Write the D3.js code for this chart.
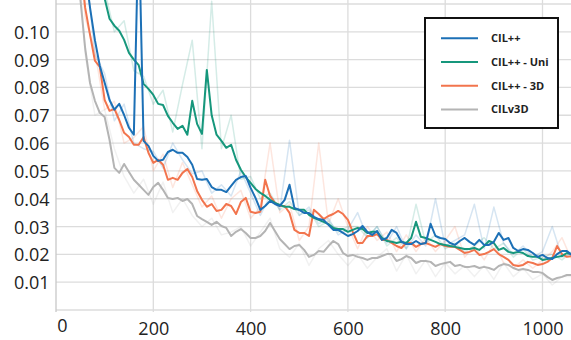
<!DOCTYPE html>
<html>
<head>
<meta charset="utf-8">
<script src="https://cdn.jsdelivr.net/npm/d3@7"></script>
<style>
  body { margin: 0; background: #fff; }
  svg { display: block; font-family: "Open Sans", "Noto Sans", sans-serif; }
</style>
</head>
<body>
<div id="chart"></div>
<script>
// training steps (logged every 10 steps for the smoothed curves, every 20 for the raw ones)
const steps = d3.range(50, 1070, 10);
const rawSteps = d3.range(40, 1080, 20);

const seriesNames = ["CIL++", "CIL++ - Uni", "CIL++ - 3D", "CILv3D"];
const seriesColors = ["#1c70b6", "#16977c", "#f2744d", "#b4b4b4"];

const xTicks = [0, 200, 400, 600, 800, 1000];
const yTicks = [0.01, 0.02, 0.03, 0.04, 0.05, 0.06, 0.07, 0.08, 0.09, 0.10];

// smoothed curves
const cilpp = [
  0.14, 0.122, 0.1086, 0.097, 0.0878, 0.0817, 0.0755, 0.072, 0.0741, 0.0701,
  0.0655, 0.063, 0.14, 0.0608, 0.059, 0.0554, 0.0536, 0.054, 0.0568, 0.0576,
  0.0565, 0.0565, 0.055, 0.0522, 0.0471, 0.0468, 0.0471, 0.0442, 0.0432, 0.0432,
  0.0424, 0.0446, 0.0468, 0.0478, 0.0482, 0.0439, 0.0403, 0.036, 0.0374, 0.0392,
  0.0381, 0.0374, 0.0396, 0.045, 0.0367, 0.036, 0.0349, 0.0349, 0.0335, 0.0327,
  0.0324, 0.0306, 0.0288, 0.0288, 0.0277, 0.0266, 0.0273, 0.0284, 0.0302, 0.0281,
  0.027, 0.0284, 0.0252, 0.0259, 0.0288, 0.0277, 0.0245, 0.0237, 0.0237, 0.0248,
  0.0237, 0.0241, 0.031, 0.0266, 0.0259, 0.0255, 0.0241, 0.0234, 0.0248, 0.0259,
  0.0245, 0.0234, 0.0252, 0.0234, 0.0234, 0.0245, 0.0277, 0.0252, 0.0259, 0.0223,
  0.0212, 0.0219, 0.0216, 0.0205, 0.0191, 0.0198, 0.0187, 0.0183, 0.0201, 0.0212,
  0.0212, 0.0198
];
const cilppUni = [
  0.16, 0.15, 0.142, 0.134, 0.124, 0.112, 0.1047, 0.1022, 0.1004, 0.0971,
  0.0924, 0.09, 0.088, 0.0813, 0.0795, 0.0773, 0.0741, 0.0737, 0.0698, 0.0673,
  0.0651, 0.0662, 0.063, 0.0752, 0.0669, 0.0633, 0.0863, 0.07, 0.063, 0.0608,
  0.0583, 0.0594, 0.054, 0.0504, 0.0478, 0.0457, 0.0435, 0.0421, 0.041, 0.0396,
  0.0385, 0.0378, 0.0371, 0.0371, 0.0363, 0.036, 0.036, 0.0342, 0.0331, 0.0324,
  0.0317, 0.0309, 0.0295, 0.0291, 0.0291, 0.0281, 0.0288, 0.0295, 0.0291, 0.0277,
  0.0281, 0.0281, 0.0259, 0.0248, 0.0245, 0.0241, 0.0245, 0.0241, 0.0259, 0.0317,
  0.0263, 0.0259, 0.0252, 0.0245, 0.0237, 0.0234, 0.023, 0.0227, 0.0223, 0.0219,
  0.0219, 0.0223, 0.0216, 0.023, 0.0248, 0.0241, 0.0216, 0.0223, 0.0209, 0.0205,
  0.0209, 0.0205, 0.0194, 0.0191, 0.0191, 0.018, 0.0183, 0.0187, 0.0191, 0.0194,
  0.0205, 0.0201
];
const cilpp3d = [
  0.125, 0.1086, 0.0989, 0.0896, 0.0874, 0.0755, 0.0716, 0.0723, 0.0683, 0.0637,
  0.0622, 0.0594, 0.0594, 0.0622, 0.0565, 0.0529, 0.054, 0.0522, 0.0468, 0.0475,
  0.0468, 0.0493, 0.0507, 0.0478, 0.0428, 0.0396, 0.0371, 0.0381, 0.0356, 0.036,
  0.0381, 0.0374, 0.0345, 0.0388, 0.0403, 0.0353, 0.0349, 0.0353, 0.0468, 0.041,
  0.0385, 0.0374, 0.0374, 0.0349, 0.0288, 0.0277, 0.0277, 0.0266, 0.036, 0.0345,
  0.0327, 0.0338, 0.0345, 0.0356, 0.0345, 0.0324, 0.0281, 0.0241, 0.0241, 0.0266,
  0.0266, 0.0273, 0.0252, 0.0252, 0.0241, 0.023, 0.0223, 0.0241, 0.0241, 0.0227,
  0.0237, 0.0241, 0.0234, 0.0227, 0.0237, 0.023, 0.0227, 0.0227, 0.0216, 0.0205,
  0.0209, 0.0216, 0.0198, 0.0201, 0.0209, 0.0219, 0.0201, 0.0191, 0.018, 0.0162,
  0.0158, 0.0162, 0.0173, 0.0169, 0.0162, 0.0165, 0.0173, 0.0187, 0.023, 0.0201,
  0.0191, 0.0194
];
const cilv3d = [
  0.112, 0.094, 0.0816, 0.0752, 0.0709, 0.0694, 0.0612, 0.0511, 0.0493, 0.0525,
  0.0496, 0.0468, 0.045, 0.0432, 0.0414, 0.0442, 0.0457, 0.0432, 0.0403, 0.0399,
  0.0403, 0.0392, 0.0399, 0.0381, 0.0338, 0.0327, 0.0317, 0.0306, 0.0317, 0.0302,
  0.0295, 0.0266, 0.0281, 0.0291, 0.0277, 0.0259, 0.0259, 0.0266, 0.0284, 0.0313,
  0.0284, 0.0255, 0.0237, 0.0219, 0.023, 0.0234, 0.0216, 0.0191, 0.0198, 0.0212,
  0.0209, 0.023, 0.0248, 0.0237, 0.0205, 0.0194, 0.0198, 0.0191, 0.0187, 0.018,
  0.0187, 0.0187, 0.0194, 0.0201, 0.0201, 0.0176, 0.0183, 0.0194, 0.0187, 0.0169,
  0.0176, 0.0176, 0.0173, 0.0158, 0.0165, 0.0169, 0.0173, 0.0158, 0.0162, 0.0155,
  0.0155, 0.0158, 0.0151, 0.0155, 0.0151, 0.0144, 0.0158, 0.0165, 0.0162, 0.0151,
  0.0144, 0.0147, 0.0144, 0.0137, 0.0137, 0.0133, 0.0119, 0.0108, 0.0115, 0.0119,
  0.0126, 0.0126
];

// raw (unsmoothed) values, drawn faint
const cilppRaw = [
  0.14, 0.125, 0.092, 0.085, 0.068, 0.074, 0.06, 0.058, 0.057, 0.051,
  0.06, 0.054, 0.049, 0.05, 0.042, 0.045, 0.041, 0.05, 0.042, 0.034,
  0.041, 0.036, 0.061, 0.034, 0.037, 0.031, 0.033, 0.027, 0.029, 0.035,
  0.026, 0.03, 0.024, 0.03, 0.022, 0.027, 0.023, 0.04, 0.023, 0.025,
  0.027, 0.038, 0.022, 0.037, 0.024, 0.02, 0.023, 0.019, 0.021, 0.03,
  0.019, 0.02
];
const cilppUniRaw = [
  0.16, 0.15, 0.135, 0.115, 0.1, 0.104, 0.086, 0.084, 0.074, 0.079,
  0.064, 0.081, 0.097, 0.058, 0.111, 0.058, 0.07, 0.047, 0.048, 0.04,
  0.042, 0.036, 0.039, 0.034, 0.036, 0.03, 0.032, 0.028, 0.03, 0.03,
  0.026, 0.03, 0.023, 0.026, 0.022, 0.038, 0.024, 0.027, 0.022, 0.024,
  0.021, 0.023, 0.026, 0.022, 0.024, 0.019, 0.022, 0.018, 0.019, 0.02,
  0.018, 0.021
];
const cilpp3dRaw = [
  0.15, 0.105, 0.093, 0.072, 0.075, 0.06, 0.062, 0.066, 0.05, 0.056,
  0.044, 0.053, 0.045, 0.037, 0.041, 0.033, 0.04, 0.043, 0.033, 0.037,
  0.06, 0.035, 0.038, 0.025, 0.03, 0.06, 0.031, 0.04, 0.03, 0.022,
  0.03, 0.025, 0.028, 0.021, 0.027, 0.021, 0.026, 0.021, 0.025, 0.03,
  0.019, 0.023, 0.018, 0.024, 0.017, 0.015, 0.018, 0.015, 0.018, 0.021,
  0.026, 0.018
];
const cilv3dRaw = [
  0.14, 0.092, 0.07, 0.072, 0.058, 0.048, 0.042, 0.047, 0.038, 0.046,
  0.035, 0.04, 0.034, 0.03, 0.033, 0.027, 0.028, 0.03, 0.023, 0.028,
  0.033, 0.022, 0.019, 0.024, 0.016, 0.022, 0.025, 0.02, 0.016, 0.02,
  0.015, 0.019, 0.022, 0.014, 0.02, 0.013, 0.018, 0.012, 0.017, 0.013,
  0.016, 0.012, 0.016, 0.011, 0.017, 0.012, 0.015, 0.011, 0.013, 0.009,
  0.012, 0.012
];

const smoothed = [cilpp, cilppUni, cilpp3d, cilv3d];
const raw = [cilppRaw, cilppUniRaw, cilpp3dRaw, cilv3dRaw];

const W = 571, H = 340;
const svg = d3.select("#chart").append("svg")
  .attr("width", W)
  .attr("height", H);

const x = d3.scaleLinear().domain([0, 1060]).range([56, 571.7]);
const y = d3.scaleLinear().domain([0, 0.11]).range([310, 4]);

// grid
svg.append("g")
  .selectAll("line.h")
  .data(d3.range(0, 12).map(i => i / 100))
  .enter().append("line")
  .attr("x1", x(0)).attr("x2", W)
  .attr("y1", d => y(d)).attr("y2", d => y(d))
  .attr("stroke", "#dcdcdc")
  .attr("stroke-width", 1.3);

svg.append("g")
  .selectAll("line.v")
  .data(xTicks)
  .enter().append("line")
  .attr("x1", d => x(d)).attr("x2", d => x(d))
  .attr("y1", 0).attr("y2", y(0) + 2)
  .attr("stroke", d => d === 0 ? "#c8c8c8" : "#dcdcdc")
  .attr("stroke-width", 1.3);

// axes
const yAxis = svg.append("g")
  .attr("transform", `translate(${x(0)},0)`)
  .call(d3.axisLeft(y).tickValues(yTicks).tickSize(0).tickFormat(d3.format(".2f")));
yAxis.select(".domain").remove();
yAxis.selectAll("text")
  .attr("x", 14 - x(0))
  .attr("text-anchor", "start")
  .attr("dy", "0.36em")
  .attr("fill", "#222")
  .style("font-size", "18px")
  .style("font-family", "'Open Sans', sans-serif");

const xAxis = svg.append("g")
  .attr("transform", `translate(0,${y(0)})`)
  .call(d3.axisBottom(x).tickValues(xTicks).tickSize(0).tickPadding(12).tickFormat(d3.format("d")));
xAxis.select(".domain").remove();
xAxis.selectAll("text")
  .attr("fill", "#222")
  .style("font-size", "18px")
  .style("font-family", "'Open Sans', sans-serif");
xAxis.selectAll("text").filter(d => d === 0)
  .attr("dx", 6)
  .attr("y", 9);

// plot lines
svg.append("clipPath").attr("id", "plot-clip")
  .append("rect")
  .attr("x", x(0)).attr("y", 0)
  .attr("width", W - x(0)).attr("height", y(0));

const plot = svg.append("g").attr("clip-path", "url(#plot-clip)");

const lineRaw = d3.line()
  .x((d, i) => x(rawSteps[i]))
  .y(d => y(d));
const lineSmooth = d3.line()
  .x((d, i) => x(steps[i]))
  .y(d => y(d));

// draw order: gray, orange, teal, blue on top
const order = [3, 2, 1, 0];

order.forEach(k => {
  plot.append("path")
    .datum(raw[k])
    .attr("d", lineRaw)
    .attr("fill", "none")
    .attr("stroke", seriesColors[k])
    .attr("stroke-opacity", 0.18)
    .attr("stroke-width", 1.5)
    .attr("stroke-linejoin", "round");
});

order.forEach(k => {
  plot.append("path")
    .datum(smoothed[k])
    .attr("d", lineSmooth)
    .attr("fill", "none")
    .attr("stroke", seriesColors[k])
    .attr("stroke-width", 2)
    .attr("stroke-linejoin", "round");
});

// legend
const legend = svg.append("g");
legend.append("rect")
  .attr("x", 425).attr("y", 18)
  .attr("width", 133).attr("height", 110)
  .attr("fill", "#fff")
  .attr("stroke", "#111")
  .attr("stroke-width", 2);

const items = legend.selectAll("g.item")
  .data(seriesNames)
  .enter().append("g")
  .attr("transform", (d, i) => `translate(0,${38.3 + i * 23.7})`);

items.append("line")
  .attr("x1", 441).attr("x2", 478)
  .attr("y1", 0).attr("y2", 0)
  .attr("stroke", (d, i) => seriesColors[i])
  .attr("stroke-width", 2);

items.append("text")
  .attr("x", 491)
  .attr("dy", "0.36em")
  .attr("fill", "#222")
  .style("font-size", "11px")
  .style("font-weight", "bold")
  .text(d => d);
</script>
</body>
</html>
